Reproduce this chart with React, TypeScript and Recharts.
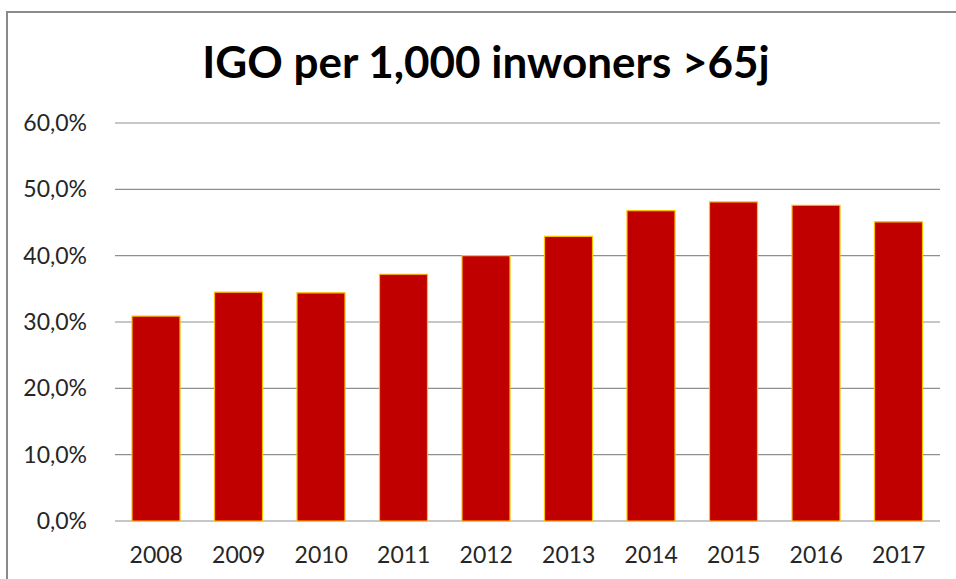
import { BarChart, Bar, XAxis, YAxis, CartesianGrid } from 'recharts';

const years = ['2008', '2009', '2010', '2011', '2012', '2013', '2014', '2015', '2016', '2017'];
const igoValues = [30.9, 34.5, 34.4, 37.2, 40.0, 42.9, 46.8, 48.1, 47.6, 45.1];
const yTicks = [0, 10, 20, 30, 40, 50, 60];

const chartData = years.map((year, i) => ({ year, value: igoValues[i] }));

const fontFamily = 'Lato, "Open Sans", sans-serif';

const formatPercent = (v: number) => `${v.toFixed(1).replace('.', ',')}%`;

export default function App() {
  return (
    <div style={{ position: 'absolute', left: 0, top: 0, width: 956, height: 579, overflow: 'hidden', background: '#fff' }}>
      {/* chart frame, runs off the right and bottom edge */}
      <div
        style={{
          position: 'absolute',
          left: 6,
          top: 11,
          width: 1000,
          height: 700,
          border: '2px solid #8a8a8a',
          boxSizing: 'border-box',
        }}
      />
      <div
        style={{
          position: 'absolute',
          left: 0,
          top: 39,
          width: 972,
          textAlign: 'center',
          fontFamily,
          fontWeight: 700,
          fontSize: 44,
          lineHeight: '44px',
          color: '#000',
        }}
      >
        IGO per 1,000 inwoners &gt;65j
      </div>
      <div style={{ position: 'absolute', left: 0, top: 0 }}>
        <BarChart
          width={956}
          height={579}
          data={chartData}
          margin={{ top: 123, right: 16, bottom: 18, left: 15 }}
        >
          <CartesianGrid horizontal vertical={false} stroke="#8f8f8f" strokeWidth={1.2} />
          <XAxis
            dataKey="year"
            axisLine={false}
            tickLine={false}
            height={40}
            tickMargin={20}
            tick={{ fill: '#262626', fontSize: 23, fontFamily }}
          />
          <YAxis
            width={100}
            domain={[0, 60]}
            ticks={yTicks}
            axisLine={false}
            tickLine={false}
            tickMargin={22}
            tickFormatter={formatPercent}
            tick={{ fill: '#262626', fontSize: 23, fontFamily }}
          />
          <Bar
            dataKey="value"
            fill="#C00000"
            stroke="#FFC000"
            strokeWidth={1.2}
            barSize={48}
            isAnimationActive={false}
          />
        </BarChart>
      </div>
    </div>
  );
}
